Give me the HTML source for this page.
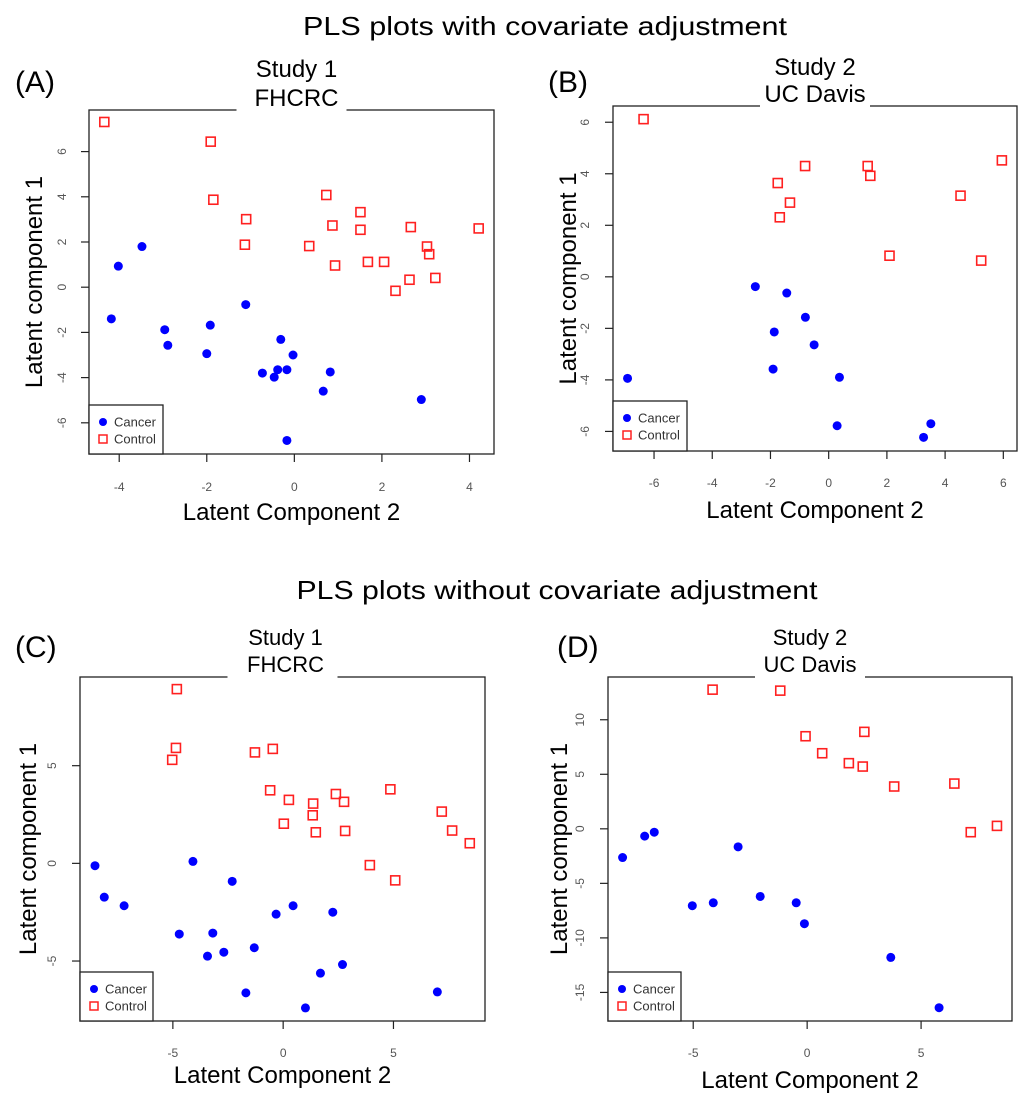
<!DOCTYPE html>
<html><head><meta charset="utf-8">
<style>
html,body{margin:0;padding:0;background:#fff;}
svg{display:block;font-family:"Liberation Sans",Arial,sans-serif;}
</style></head>
<body>
<svg id="fig" width="1024" height="1099" viewBox="0 0 1024 1099" xmlns="http://www.w3.org/2000/svg">
<text x="545" y="35" font-size="26" text-anchor="middle" textLength="484" lengthAdjust="spacingAndGlyphs">PLS plots with covariate adjustment</text>
<text x="557" y="599" font-size="26" text-anchor="middle" textLength="521" lengthAdjust="spacingAndGlyphs">PLS plots without covariate adjustment</text>
</svg>
<script>
// Panel A data
const aCancerX=[-4.18,-4.02,-3.48,-2.96,-2.89,-2.00,-1.92,-1.11,-0.73,-0.46,-0.38,-0.31,-0.17,-0.03,-0.17,0.66,0.82,2.90];
const aCancerY=[-1.40,0.93,1.80,-1.88,-2.57,-2.94,-1.68,-0.77,-3.80,-3.98,-3.65,-2.31,-3.65,-3.00,-6.78,-4.60,-3.75,-4.97];
const aControlX=[-4.34,-1.91,-1.85,-1.10,-1.13,0.34,0.73,0.87,0.93,1.51,1.51,1.68,2.05,2.31,2.63,2.66,3.03,3.08,3.22,4.21];
const aControlY=[7.31,6.44,3.87,3.01,1.88,1.82,4.08,2.73,0.96,3.32,2.54,1.12,1.12,-0.16,0.33,2.66,1.80,1.46,0.41,2.60];
const aXTicks=[-4,-2,0,2,4];
const aYTicks=[-6,-4,-2,0,2,4,6];
// Panel B data
const bCancerX=[-6.91,-2.52,-1.44,-0.80,-1.87,-0.50,-1.91,0.37,0.29,3.26,3.51];
const bCancerY=[-3.94,-0.38,-0.63,-1.57,-2.14,-2.64,-3.58,-3.90,-5.78,-6.23,-5.70];
const bControlX=[-6.36,-0.81,-1.75,-1.33,-1.68,1.34,1.43,2.09,4.53,5.24,5.95];
const bControlY=[6.12,4.30,3.64,2.88,2.31,4.30,3.92,0.82,3.15,0.63,4.52];
const bXTicks=[-6,-4,-2,0,2,4,6];
const bYTicks=[-6,-4,-2,0,2,4,6];
// Panel C data
const cCancerX=[-8.53,-8.11,-7.21,-4.09,-4.71,-3.19,-3.43,-2.69,-2.31,-1.31,-1.69,-0.32,0.45,2.25,1.69,2.69,1.01,6.99];
const cCancerY=[-0.12,-1.73,-2.17,0.10,-3.62,-3.57,-4.75,-4.55,-0.92,-4.32,-6.63,-2.60,-2.17,-2.50,-5.62,-5.18,-7.40,-6.58];
const cControlX=[-4.82,-4.86,-5.03,-1.28,-0.47,-0.59,0.26,0.03,1.36,1.34,1.48,2.39,2.76,2.81,4.86,3.93,5.08,7.19,7.66,8.46];
const cControlY=[8.92,5.91,5.30,5.68,5.86,3.74,3.25,2.03,3.06,2.46,1.59,3.55,3.15,1.66,3.79,-0.09,-0.87,2.65,1.68,1.03];
const cXTicks=[-5,0,5];
const cYTicks=[-5,0,5];
// Panel D data
const dCancerX=[-8.10,-7.13,-6.71,-5.04,-4.12,-3.03,-2.06,-0.48,-0.12,3.67,5.79];
const dCancerY=[-2.63,-0.67,-0.31,-7.05,-6.78,-1.65,-6.20,-6.78,-8.70,-11.79,-16.40];
const dControlX=[-4.15,-1.18,-0.07,0.66,1.83,2.44,2.51,3.82,6.46,7.18,8.33];
const dControlY=[12.76,12.67,8.49,6.93,6.02,5.71,8.89,3.88,4.15,-0.31,0.27];
const dXTicks=[-5,0,5];
const dYTicks=[-15,-10,-5,0,5,10];

const NS="http://www.w3.org/2000/svg";
const svg=document.getElementById('fig');
function mk(tag,attrs,parent){const e=document.createElementNS(NS,tag);for(const k in attrs)e.setAttribute(k,attrs[k]);(parent||svg).appendChild(e);return e;}

function panel(p){
  const g=mk('g',{});
  
  
  const sx=v=>p.L+(v-p.xmin)/(p.xmax-p.xmin)*(p.R-p.L);
  const sy=v=>p.B-(v-p.ymin)/(p.ymax-p.ymin)*(p.B-p.T);
  const box=mk('rect',{x:p.L,y:p.T,width:p.R-p.L,height:p.B-p.T,fill:'none',stroke:'#222','stroke-width':1.3},g);
  
  
  p.xt.forEach(t=>{
    const x=sx(t);
    const tk=mk('line',{x1:x,x2:x,y1:p.B,y2:p.B+8,stroke:'#222','stroke-width':1.2},g);
    
    
    const lb=mk('text',{x:x,y:p.xlY,'font-size':12,fill:'#555','text-anchor':'middle'},g);
    
    
    lb.textContent=String(t);
  });
  p.yt.forEach(t=>{
    const y=sy(t);
    const tk=mk('line',{x1:p.L-8,x2:p.L,y1:y,y2:y,stroke:'#222','stroke-width':1.2},g);
    
    
    const lb=mk('text',{x:p.ylX,y:y,'font-size':12,fill:'#555','text-anchor':'middle',transform:'rotate(-90 '+p.ylX+' '+y+')'},g);
    
    
    lb.textContent=String(t);
  });
  p.conX.forEach((v,i)=>{
    const s=mk('rect',{x:sx(v)-4.5,y:sy(p.conY[i])-4.5,width:9,height:9,fill:'none',stroke:'#ff2020','stroke-width':1.6},g);
    
    
  });
  p.canX.forEach((v,i)=>{
    const c=mk('circle',{cx:sx(v),cy:sy(p.canY[i]),r:4.5,fill:'#0000ff'},g);
    
    
  });
  const cx=(p.L+p.R)/2;
  mk('rect',{x:cx-55,y:p.T-3,width:110,height:5,fill:'#fff'},g);
  const t1=mk('text',{x:cx+p.tdx,y:p.t1Y,'font-size':p.tfs,'text-anchor':'middle'},g);
  
  
  t1.textContent=p.t1;
  const t2=mk('text',{x:cx+p.tdx,y:p.t2Y,'font-size':p.tfs,'text-anchor':'middle'},g);
  
  
  t2.textContent=p.t2;
  const lab=mk('text',{x:p.labX,y:p.labY,'font-size':30},g);
  
  
  lab.textContent=p.lab;
  const xa=mk('text',{x:cx,y:p.xaY,'font-size':24,'text-anchor':'middle'},g);
  
  
  xa.textContent='Latent Component 2';
  const ya=mk('text',{x:p.yaX,y:(p.T+p.B)/2,'font-size':24,'text-anchor':'middle',transform:'rotate(-90 '+p.yaX+' '+(p.T+p.B)/2+')'},g);
  
  
  ya.textContent='Latent component 1';
  const lg=mk('g',{},g);
  
  
  mk('rect',{x:p.L,y:p.lgT,width:p.lgW,height:p.B-p.lgT,fill:'#fff',stroke:'#222','stroke-width':1.3},lg);
  const e1y=p.lgT+17, e2y=p.lgT+34;
  mk('circle',{cx:p.L+14,cy:e1y,r:4,fill:'#0000ff'},lg);
  const l1=mk('text',{x:p.L+25,y:e1y+4.5,'font-size':13,fill:'#333'},lg);
  
  
  l1.textContent='Cancer';
  mk('rect',{x:p.L+10,y:e2y-4,width:8,height:8,fill:'none',stroke:'#ff2020','stroke-width':1.5},lg);
  const l2=mk('text',{x:p.L+25,y:e2y+4.5,'font-size':13,fill:'#333'},lg);
  
  
  l2.textContent='Control';
}

panel({id:'a',L:89,R:494,T:110,B:454,xmin:-4.69,xmax:4.56,ymin:-7.38,ymax:7.84,xt:aXTicks,yt:aYTicks,
  canX:aCancerX,canY:aCancerY,conX:aControlX,conY:aControlY,xlY:491,ylX:66,
  t1:'Study 1',t2:'FHCRC',t1Y:77,t2Y:106,tfs:24,tdx:5,lab:'(A)',labX:15,labY:92,xaY:520,yaX:42,lgT:405,lgW:74});
panel({id:'b',L:613,R:1017,T:106,B:451,xmin:-7.41,xmax:6.47,ymin:-6.76,ymax:6.63,xt:bXTicks,yt:bYTicks,
  canX:bCancerX,canY:bCancerY,conX:bControlX,conY:bControlY,xlY:487,ylX:589,
  t1:'Study 2',t2:'UC Davis',t1Y:75,t2Y:102,tfs:24,tdx:0,lab:'(B)',labX:548,labY:92,xaY:518,yaX:576,lgT:401,lgW:74});
panel({id:'c',L:80,R:485,T:677,B:1021,xmin:-9.21,xmax:9.15,ymin:-8.07,ymax:9.54,xt:cXTicks,yt:cYTicks,
  canX:cCancerX,canY:cCancerY,conX:cControlX,conY:cControlY,xlY:1057,ylX:56,
  t1:'Study 1',t2:'FHCRC',t1Y:645,t2Y:672,tfs:22,tdx:3,lab:'(C)',labX:15,labY:657,xaY:1083,yaX:36,lgT:972,lgW:73});
panel({id:'d',L:608,R:1012,T:677,B:1021,xmin:-8.74,xmax:8.99,ymin:-17.62,ymax:13.92,xt:dXTicks,yt:dYTicks,
  canX:dCancerX,canY:dCancerY,conX:dControlX,conY:dControlY,xlY:1057,ylX:584,
  t1:'Study 2',t2:'UC Davis',t1Y:645,t2Y:672,tfs:22,tdx:0,lab:'(D)',labX:557,labY:657,xaY:1088,yaX:567,lgT:972,lgW:73});
</script>
</body></html>
